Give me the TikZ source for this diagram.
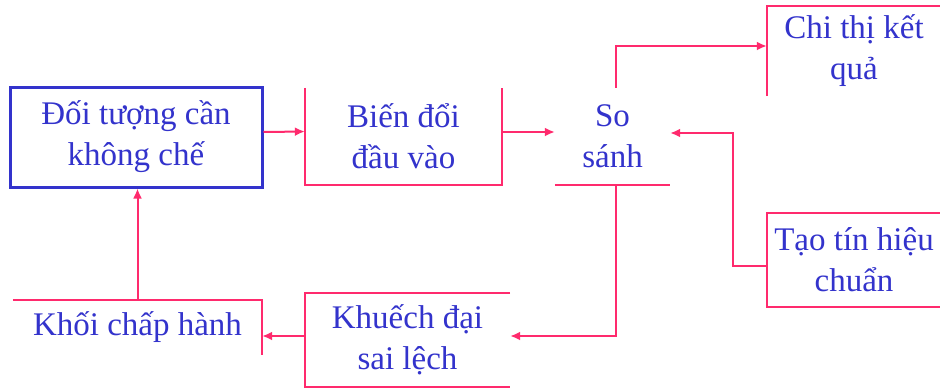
\documentclass[tikz,border=0pt]{standalone}
\usepackage{fontspec}
\setmainfont{Liberation Serif}
\usetikzlibrary{arrows.meta,calc}
\definecolor{pinkline}{HTML}{FF2A6D}
\definecolor{bluetext}{HTML}{3333CC}
\tikzset{
  blk/.style={text=bluetext, align=center, inner sep=0pt,
    font=\fontsize{33}{41}\selectfont},
  wire/.style={draw=pinkline, line width=2pt},
  arr/.style={wire, -{Latex[length=10pt,width=9pt]}},
}
\begin{document}
\begin{tikzpicture}[x=1pt,y=-1pt]
\useasboundingbox[fill=white] (0,0) rectangle (940,389);
% nodes
\node[blk, draw=bluetext, line width=3pt, minimum width=252pt, minimum height=100pt] (doi) at (136,137) {Đối tượng cần\\không chế};
\node[blk, minimum width=197pt, minimum height=97pt] (bien) at (403.5,136.5) {Biến đổi\\đầu vào};
\node[blk, minimum width=115pt, minimum height=97pt] (ss) at (612.5,136.5) {So\\sánh};
\node[blk, minimum width=174pt, minimum height=90pt] (chi) at (854,51) {Chi thị kết\\quả};
\node[blk, minimum width=174pt, minimum height=94pt] (tao) at (854,260) {Tạo tín hiệu\\chuẩn};
\node[blk, minimum width=205pt, minimum height=94pt] (kd) at (407.5,340) {Khuếch đại\\sai lệch};
\node[blk, minimum width=249pt, minimum height=55pt] (khoi) at (137.5,327.5) {Khối chấp hành};
% partial outlines
\draw[wire] (bien.north west) -- (bien.south west) -- (bien.south east) -- (bien.north east);
\draw[wire] (ss.south west) -- (ss.south east);
\draw[wire] (chi.south west) -- (chi.north west) -- (chi.north east);
\draw[wire] (tao.north east) -- (tao.north west) -- (tao.south west) -- (tao.south east);
\draw[wire] (kd.north east) -- (kd.north west) -- (kd.south west) -- (kd.south east);
\draw[wire] (khoi.north west) -- (khoi.north east) -- (khoi.south east);
% connectors
\draw[arr] ([yshift=5pt]doi.east) -- ([yshift=5pt]bien.west);
\draw[arr] ([yshift=4.5pt]bien.east) -- ([yshift=4.5pt]ss.west);
\draw[arr] ([xshift=3.5pt]ss.north) |- ([yshift=5pt]chi.west);
\draw[arr] ([yshift=-6pt]tao.west) -- ++(-34,0) |- ([yshift=3.5pt]ss.east);
\draw[arr] ([xshift=3.5pt]ss.south) |- ([yshift=4pt]kd.east);
\draw[arr] ([yshift=4pt]kd.west) -- ([yshift=4pt]kd.west -| khoi.east);
\draw[arr] (khoi.north) -- (khoi.north |- doi.south);
\end{tikzpicture}
\end{document}
